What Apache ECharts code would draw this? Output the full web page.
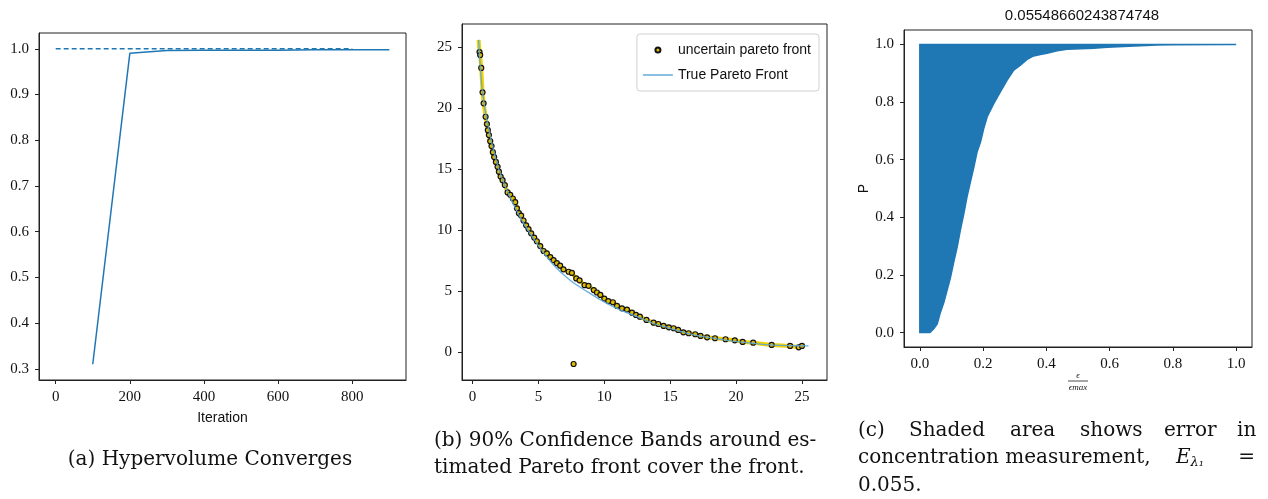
<!DOCTYPE html>
<html>
<head>
<meta charset="utf-8">
<script src="https://cdn.jsdelivr.net/npm/echarts@6/dist/echarts.min.js"></script>
<style>
  html, body { margin: 0; padding: 0; background: #fff; }
  #main { width: 1268px; height: 499px; }
</style>
</head>
<body>
<div id="main"></div>
<script>
// (a) hypervolume
const iterX = [100, 200, 300, 400, 500, 600, 700, 800, 900];
const hvValues = [0.31, 0.99, 0.996, 0.997, 0.997, 0.997, 0.998, 0.998, 0.998];
const refX = [0, 800];
const refValues = [1.0, 1.0];
const iterTicks = [0, 200, 400, 600, 800];
const hvTicks = [0.3, 0.4, 0.5, 0.6, 0.7, 0.8, 0.9, 1.0];

// (b) pareto front
const ufX = [0.53, 0.58, 0.66, 0.76, 0.84, 0.99, 1.09, 1.16, 1.24, 1.34, 1.44, 1.54, 1.64, 1.77, 1.9, 2.0, 2.13, 2.28, 2.45, 2.66, 2.86, 3.06, 3.24, 3.37, 3.52, 3.69, 3.87, 4.07, 4.25, 4.45, 4.68, 4.88, 5.14, 5.39, 5.64, 5.9, 6.15, 6.4, 6.65, 6.9, 7.29, 7.54, 7.87, 8.12, 8.5, 8.8, 9.2, 9.44, 9.7, 10.0, 10.3, 10.65, 10.96, 11.34, 11.72, 12.1, 12.4, 12.7, 13.2, 13.74, 14.1, 14.5, 14.9, 15.26, 15.6, 16.0, 16.4, 16.9, 17.3, 17.8, 18.4, 19.2, 19.9, 20.5, 21.3, 22.7, 24.1, 24.75, 25.0];
const ufY = [24.6, 24.35, 23.3, 21.3, 20.4, 19.3, 18.7, 18.2, 17.8, 17.3, 16.9, 16.4, 16.0, 15.6, 15.2, 14.8, 14.4, 14.1, 13.7, 13.1, 12.9, 12.6, 12.3, 11.8, 11.4, 11.2, 10.8, 10.4, 10.1, 9.75, 9.4, 9.1, 8.7, 8.3, 8.1, 7.8, 7.55, 7.3, 7.1, 6.8, 6.6, 6.5, 6.05, 5.9, 5.5, 5.45, 5.1, 4.9, 4.7, 4.4, 4.2, 4.1, 3.8, 3.6, 3.5, 3.25, 3.06, 2.92, 2.65, 2.43, 2.32, 2.16, 2.05, 1.97, 1.83, 1.64, 1.56, 1.48, 1.34, 1.23, 1.15, 1.07, 0.98, 0.85, 0.79, 0.6, 0.52, 0.41, 0.52];
const outlierX = [7.67];
const outlierY = [-0.96];
const tpX = [0.46, 0.71, 1.09, 1.85, 2.6, 3.6, 4.9, 6.15, 7.4, 8.7, 9.95, 11.2, 12.5, 13.7, 15.0, 16.3, 17.5, 18.8, 20.1, 21.3, 22.6, 23.9, 25.5];
const tpY = [25.6, 21.8, 19.0, 15.5, 13.3, 11.1, 8.9, 7.15, 5.9, 4.97, 4.15, 3.47, 2.92, 2.38, 1.97, 1.56, 1.28, 1.07, 0.87, 0.74, 0.6, 0.55, 0.52];
const bandX = [0.46].concat(ufX);
const bandY = [25.6].concat(ufY);
const pfTicks = [0, 5, 10, 15, 20, 25];

// (c) error distribution
const cdfX = [0, 0.032, 0.044, 0.055, 0.065, 0.076, 0.086, 0.097, 0.107, 0.118, 0.128, 0.139, 0.149, 0.16, 0.171, 0.181, 0.192, 0.202, 0.213, 0.234, 0.255, 0.276, 0.297, 0.318, 0.339, 0.36, 0.381, 0.402, 0.434, 0.465, 0.507, 0.549, 0.592, 0.644, 0.697, 0.749, 0.802, 1.0];
const cdfY = [0, 0, 0.013, 0.03, 0.07, 0.105, 0.146, 0.192, 0.244, 0.297, 0.355, 0.412, 0.47, 0.523, 0.575, 0.627, 0.662, 0.708, 0.749, 0.795, 0.836, 0.876, 0.911, 0.928, 0.948, 0.96, 0.965, 0.969, 0.978, 0.983, 0.985, 0.987, 0.99, 0.993, 0.995, 0.998, 0.999, 1.0];
const errTicks = [0, 0.2, 0.4, 0.6, 0.8, 1.0];

const zip = (xs, ys) => xs.map((x, i) => [x, ys[i]]);

const serif = '"Liberation Serif", "DejaVu Serif", serif';
const sans = '"Liberation Sans", Arial, sans-serif';
const capFont = '"DejaVu Serif", serif';
const frame = '#222';

function valueAxis(idx, min, max, ticks, digits, extra) {
  return Object.assign({
    type: 'value',
    gridIndex: idx,
    min: min,
    max: max,
    splitLine: { show: false },
    axisLine: { show: true, onZero: false, lineStyle: { color: frame, width: 1 } },
    axisTick: { show: true, length: 4, customValues: ticks, lineStyle: { color: frame } },
    axisLabel: {
      customValues: ticks,
      color: '#111',
      fontFamily: serif,
      fontSize: 15,
      margin: 10,
      formatter: v => v.toFixed(digits)
    }
  }, extra || {});
}

const chart = echarts.init(document.getElementById('main'), null, { renderer: 'canvas' });

// caption words for (c), placed by hand to mimic justified text
const capC1 = [['(c)', 858], ['Shaded', 909], ['area', 1010], ['shows', 1080], ['error', 1164], ['in', 1237]];

const graphics = [
  { type: 'text', x: 210, y: 460, style: { text: '(a) Hypervolume Converges', font: '20px ' + capFont, fill: '#111', align: 'center', verticalAlign: 'middle' } },
  { type: 'text', x: 434, y: 441, style: { text: '(b) 90% Confidence Bands around es-', font: '20px ' + capFont, fill: '#111', align: 'left', verticalAlign: 'middle' } },
  { type: 'text', x: 434, y: 468, style: { text: 'timated Pareto front cover the front.', font: '20px ' + capFont, fill: '#111', align: 'left', verticalAlign: 'middle' } },
  { type: 'text', x: 858, y: 458, style: { text: 'concentration measurement,', font: '20px ' + capFont, fill: '#111', align: 'left', verticalAlign: 'middle' } },
  { type: 'text', x: 1176, y: 458, style: { text: '{e|E}{s|λ₁}', rich: { e: { font: 'italic 20px ' + capFont, fill: '#111' }, s: { font: 'italic 13px ' + capFont, fill: '#111', padding: [10, 0, 0, 0] } }, align: 'left', verticalAlign: 'middle' } },
  { type: 'text', x: 1255, y: 458, style: { text: '=', font: '20px ' + capFont, fill: '#111', align: 'right', verticalAlign: 'middle' } },
  { type: 'text', x: 858, y: 486, style: { text: '0.055.', font: '20px ' + capFont, fill: '#111', align: 'left', verticalAlign: 'middle' } },
  // x label of (c): epsilon / epsilon_max
  { type: 'text', x: 1078, y: 376, style: { text: 'ϵ', font: 'italic 9px ' + serif, fill: '#222', align: 'center', verticalAlign: 'middle' } },
  { type: 'line', shape: { x1: 1068, y1: 381, x2: 1088, y2: 381 }, style: { stroke: '#222', lineWidth: 0.8 } },
  { type: 'text', x: 1078, y: 388, style: { text: 'ϵmax', font: 'italic 9px ' + serif, fill: '#222', align: 'center', verticalAlign: 'middle' } }
];
capC1.forEach(([w, x]) => {
  graphics.push({ type: 'text', x: x, y: 431, style: { text: w, font: '20px ' + capFont, fill: '#111', align: 'left', verticalAlign: 'middle' } });
});

const option = {
  animation: false,
  backgroundColor: '#fff',
  title: {
    text: '0.05548660243874748',
    left: 1077,
    top: 3,
    textAlign: 'center',
    textStyle: { fontFamily: sans, fontSize: 15, fontWeight: 'normal', color: '#111' }
  },
  legend: {
    data: [
      { name: 'uncertain pareto front', icon: 'circle' },
      { name: 'True Pareto Front', icon: 'path://M0,0H30V1.4H0Z' }
    ],
    orient: 'vertical',
    right: 449,
    top: 34,
    padding: [8, 8, 8, 6],
    itemWidth: 30,
    itemHeight: 5,
    itemGap: 9,
    symbolKeepAspect: true,
    borderColor: '#d0d0d0',
    borderWidth: 1,
    borderRadius: 3,
    backgroundColor: 'rgba(255,255,255,0.85)',
    textStyle: { fontFamily: sans, fontSize: 14, color: '#111', lineHeight: 16 }
  },
  grid: [
    { left: 39, top: 33, width: 367, height: 347, show: true, borderColor: frame, borderWidth: 1, outerBoundsMode: 'none' },
    { left: 462, top: 24, width: 365, height: 356, show: true, borderColor: frame, borderWidth: 1, outerBoundsMode: 'none' },
    { left: 904, top: 30, width: 348, height: 317, show: true, borderColor: frame, borderWidth: 1, outerBoundsMode: 'none' }
  ],
  xAxis: [
    valueAxis(0, -45, 945, iterTicks, 0, {
      name: 'Iteration', nameLocation: 'middle', nameGap: 31,
      nameTextStyle: { fontFamily: sans, fontSize: 14, color: '#111' }
    }),
    valueAxis(1, -0.8, 26.9, pfTicks, 0),
    valueAxis(2, -0.05, 1.05, errTicks, 1)
  ],
  yAxis: [
    valueAxis(0, 0.2755, 1.0345, hvTicks, 1),
    valueAxis(1, -2.27, 26.9, pfTicks, 0),
    valueAxis(2, -0.05, 1.05, errTicks, 1, {
      name: 'P', nameLocation: 'middle', nameGap: 28,
      nameTextStyle: { fontFamily: sans, fontSize: 14, color: '#111' }
    })
  ],
  series: [
    {
      name: 'reference',
      type: 'line',
      xAxisIndex: 0, yAxisIndex: 0,
      data: zip(refX, refValues),
      symbol: 'none',
      silent: true,
      lineStyle: { color: '#1f77b4', width: 1.5, type: [5, 3] }
    },
    {
      name: 'hypervolume',
      type: 'line',
      xAxisIndex: 0, yAxisIndex: 0,
      data: zip(iterX, hvValues),
      symbol: 'none',
      silent: true,
      lineStyle: { color: '#1f77b4', width: 1.5 }
    },
    {
      name: 'band',
      type: 'line',
      xAxisIndex: 1, yAxisIndex: 1,
      data: zip(bandX, bandY),
      symbol: 'none',
      silent: true,
      z: 1,
      lineStyle: { color: '#f2d200', width: 4 }
    },
    {
      name: 'uncertain pareto front',
      type: 'scatter',
      xAxisIndex: 1, yAxisIndex: 1,
      data: zip(ufX, ufY).concat(zip(outlierX, outlierY)),
      symbolSize: 5,
      z: 2,
      itemStyle: { color: '#e0bc00', borderColor: '#111', borderWidth: 1.2, opacity: 1 }
    },
    {
      name: 'True Pareto Front',
      type: 'line',
      xAxisIndex: 1, yAxisIndex: 1,
      data: zip(tpX, tpY),
      symbol: 'none',
      smooth: 0.3,
      z: 3,
      itemStyle: { color: '#5aa5da' },
      lineStyle: { color: '#5aa5da', width: 1.3, opacity: 0.9 }
    },
    {
      name: 'error',
      type: 'custom',
      xAxisIndex: 2, yAxisIndex: 2,
      data: [[0, 0]],
      silent: true,
      renderItem: function (params, api) {
        const pts = cdfX.map((x, i) => api.coord([x, cdfY[i]]));
        pts.push(api.coord([0, 1]));
        return {
          type: 'polygon',
          shape: { points: pts },
          style: { fill: '#1f77b4', stroke: '#1f77b4', lineWidth: 1.5 }
        };
      }
    }
  ],
  graphic: graphics
};

chart.setOption(option);
</script>
</body>
</html>
